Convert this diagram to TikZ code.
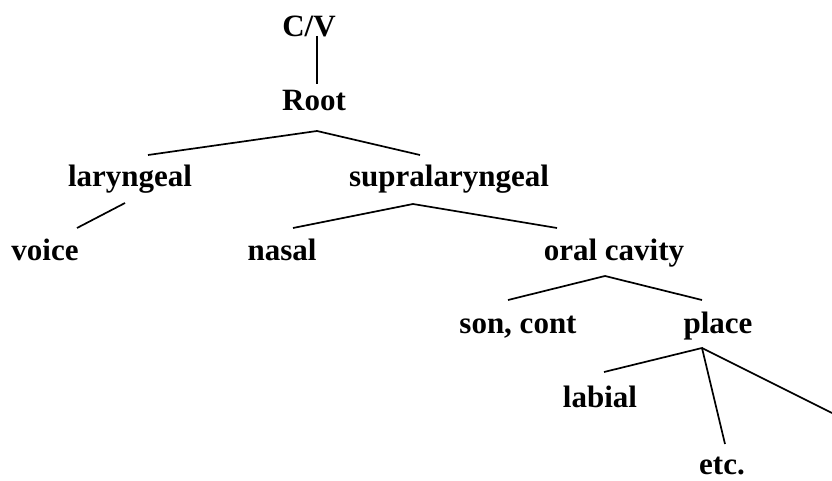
\documentclass[tikz,border=0pt]{standalone}
\usepackage{fontspec}
\setmainfont{Liberation Serif}
\begin{document}
\begin{tikzpicture}[x=1pt,y=-1pt,
  lbl/.style={anchor=base,inner sep=0pt,font=\fontsize{31}{31}\selectfont\bfseries},
  branch/.style={line width=1.7pt}]
\useasboundingbox (0,0) rectangle (832,481);
% feature labels
\node[lbl] (cv)    at (309,37)  {C/V};
\node[lbl] (root)  at (314,111) {Root};
\node[lbl] (lar)   at (130,186) {laryngeal};
\node[lbl] (supra) at (449,186) {supralaryngeal};
\node[lbl] (voice) at (45,260)  {voice};
\node[lbl] (nasal) at (282,260) {nasal};
\node[lbl] (oral)  at (614,260) {oral cavity};
\node[lbl] (son)   at (518,333) {son, cont};
\node[lbl] (place) at (718,333) {place};
\node[lbl] (lab)   at (600,407) {labial};
\node[lbl] (etc)   at (722,474) {etc.};
% branch end points
\coordinate (cv-d)    at (317,36);
\coordinate (root-u)  at (317,84);
\coordinate (root-d)  at (317,131);
\coordinate (lar-u)   at (148,155);
\coordinate (supra-u) at (420,155);
\coordinate (lar-d)   at (125,203);
\coordinate (voice-u) at (77,228);
\coordinate (supra-d) at (413,204);
\coordinate (nasal-u) at (293,228);
\coordinate (oral-u)  at (557,228);
\coordinate (oral-d)  at (605,276);
\coordinate (son-u)   at (508,300);
\coordinate (place-u) at (702,300);
\coordinate (place-d) at (702,348);
\coordinate (lab-u)   at (604,372);
\coordinate (etc-u)   at (725,444);
\coordinate (edge)    at (832,413);
% branches
\draw[branch] (cv-d) -- (root-u);
\draw[branch] (lar-u) -- (root-d) -- (supra-u);
\draw[branch] (lar-d) -- (voice-u);
\draw[branch] (nasal-u) -- (supra-d) -- (oral-u);
\draw[branch] (son-u) -- (oral-d) -- (place-u);
\draw[branch] (lab-u) -- (place-d) -- (etc-u);
\draw[branch] (place-d) -- (edge);
\end{tikzpicture}
\end{document}
